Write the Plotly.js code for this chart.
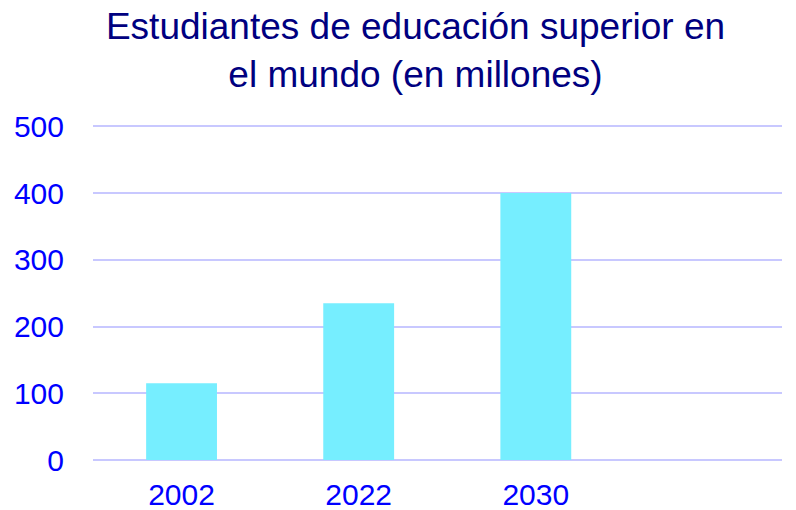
<!DOCTYPE html>
<html><head><meta charset="utf-8">
<script src="https://cdn.plot.ly/plotly-3.0.1.min.js"></script>
<style>html,body{margin:0;padding:0;background:#fff}#chart{width:796px;height:510px}</style>
</head><body><div id="chart"></div>
<script>
var categories = ["2002", "2022", "2030"];
var students = [115, 235, 400];
var yTicks = [0, 100, 200, 300, 400, 500];

var font = "Liberation Sans, Arial, sans-serif";
Plotly.newPlot("chart", [{
  type: "bar",
  x: categories,
  y: students,
  width: 0.4,
  marker: {color: "#76EEFF"},
  hoverinfo: "x+y"
}], {
  width: 796, height: 510,
  margin: {l: 93, r: 14, t: 123, b: 50},
  paper_bgcolor: "#fff", plot_bgcolor: "#fff",
  title: {text: "Estudiantes de educación superior en<br>el mundo (en millones)",
    font: {family: font, size: 37, color: "#000080"},
    x: 0.522, xanchor: "center", xref: "container", y: 0.924, yanchor: "middle", yref: "container"},
  xaxis: {type: "category", range: [-0.5, 3.39], showgrid: false, zeroline: false, showline: false,
    tickfont: {family: font, size: 30, color: "#0000FF"}, ticks: "", ticklabelstandoff: 14},
  yaxis: {range: [0, 505], tickvals: yTicks, showgrid: true, gridcolor: "#C8C8FF", gridwidth: 2,
    zeroline: true, zerolinecolor: "#C8C8FF", zerolinewidth: 2, showline: false,
    tickfont: {family: font, size: 30, color: "#0000FF"},
    ticks: "", ticklabelstandoff: 28},
  showlegend: false, bargap: 0.6
}, {displayModeBar: false, staticPlot: true});
</script></body></html>
